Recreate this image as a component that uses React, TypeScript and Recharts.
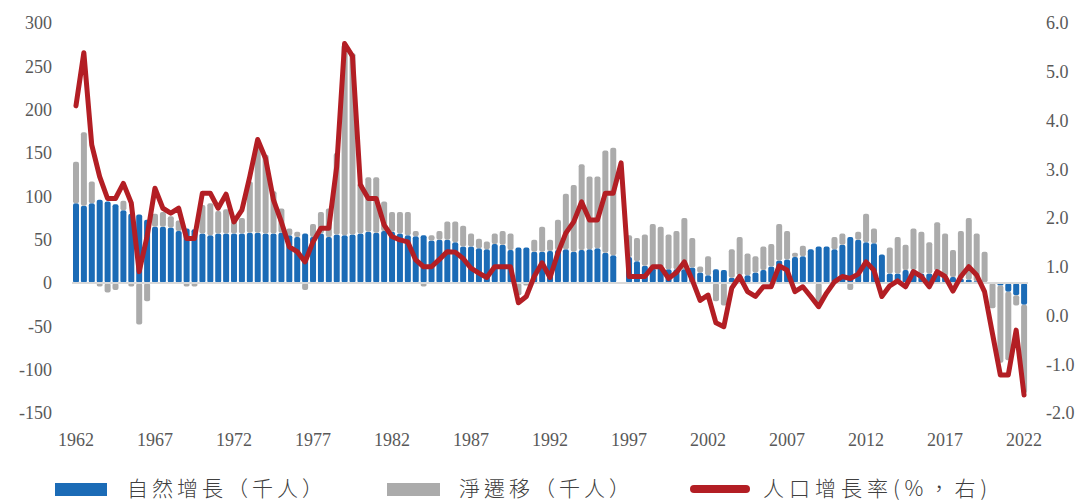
import React from 'react'
import { ComposedChart, Bar, Line, XAxis, YAxis, ReferenceLine } from 'recharts'

// half-year periods, 1962H1 .. 2022H1
const periods = Array.from({ length: 121 }, (_, i) => `${1962 + Math.floor(i / 2)}${i % 2 ? 'H2' : 'H1'}`)

// 自然增長（千人）
const naturalIncrease = [
  92, 89, 92, 96, 94, 91, 84, 80, 79, 73,
  65, 65, 64, 60, 63, 62, 57, 55, 57, 57,
  57, 57, 58, 58, 57, 57, 58, 55, 53, 57,
  53, 57, 53, 56, 55, 56, 57, 59, 58, 60,
  59, 57, 55, 54, 55, 49, 50, 50, 47, 42,
  42, 40, 39, 45, 44, 38, 41, 41, 36, 36,
  37, 38, 39, 36, 38, 39, 40, 35, 32, null,
  30, 25, 20, 17, 18, 16, 16, 16, 18, 12,
  9, 16, 15, 6, 9, 9, 12, 15, 19, 26,
  27, 30, 31, 39, 42, 42, 39, 44, 53, 50,
  47, 46, 33, 11, 11, 15, 15, 11, 11, 14,
  8, 7, 5, 4, 2, 1, 1, -3, -10, -14,
  -25,
]

// 淨遷移（千人）
const netMigration = [
  48, 85, 25, -4, -11, -8, 11, -4, -48, -21,
  15, 17, 13, 12, -4, -4, 33, 37, 26, 28,
  16, 18, 59, 104, 91, 49, 28, 8, 6, -8,
  15, 25, 33, 94, 220, 209, 58, 63, 64, 34,
  23, 25, 27, 6, -4, 6, 10, 21, 24, 24,
  15, 11, 9, 12, 16, 19, -14, -3, 14, 29,
  13, 35, 64, 77, 99, 84, 83, 118, 124, null,
  25, 27, 36, 51, 47, 40, 44, 59, 34, 7,
  22, -21, -26, 33, 44, 25, 19, 27, 26, 42,
  33, 5, 12, 0, -25, 0, 14, 13, -8, 9,
  33, 17, 0, 30, 42, 29, 48, 48, 36, 56,
  49, 31, 55, 71, 55, 35, -29, -89, -79, -12,
  -102,
]

// 人口增長率(%，右)
const growthRate = [
  4.3, 5.39, 3.5, 2.85, 2.4, 2.4, 2.71, 2.31, 0.9, 1.62,
  2.61, 2.2, 2.1, 2.2, 1.58, 1.58, 2.51, 2.51, 2.2, 2.49,
  1.92, 2.16, 2.85, 3.61, 3.22, 2.37, 1.92, 1.41, 1.31, 1.1,
  1.51, 1.79, 1.79, 3.05, 5.58, 5.32, 2.68, 2.4, 2.4, 1.86,
  1.62, 1.55, 1.51, 1.14, 1.0, 1.0, 1.15, 1.31, 1.3, 1.17,
  0.97, 0.87, 0.78, 1.0, 1.0, 1.0, 0.26, 0.39, 0.8, 1.08,
  0.78, 1.28, 1.69, 1.92, 2.33, 1.96, 1.96, 2.51, 2.51, 3.13,
  0.8, 0.8, 0.8, 1.0, 1.0, 0.76, 0.88, 1.1, 0.73, 0.31,
  0.42, -0.15, -0.23, 0.56, 0.8, 0.49, 0.39, 0.59, 0.59, 1.02,
  0.93, 0.49, 0.59, 0.39, 0.18, 0.46, 0.69, 0.8, 0.76, 0.85,
  1.1, 0.93, 0.39, 0.61, 0.71, 0.59, 0.9, 0.8, 0.59, 0.9,
  0.8, 0.5, 0.8, 1.0, 0.83, 0.49, -0.37, -1.22, -1.22, -0.3,
  -1.63,
]

const leftTicks = [-150, -100, -50, 0, 50, 100, 150, 200, 250, 300]
const rightTicks = [-2, -1, 0, 1, 2, 3, 4, 5, 6]

const BLUE = '#1B6BB6'
const GRAY = '#ABABAB'
const RED = '#B31E24'

const rows = periods.map((p, i) => ({
  period: p,
  natural: naturalIncrease[i],
  migration: netMigration[i],
  rate: growthRate[i],
}))

const tickStyle = { fontSize: 18, fill: '#595959', fontFamily: '"Liberation Serif", serif' }
const legendText = {
  position: 'absolute' as const,
  top: 473,
  lineHeight: '28px',
  fontSize: 21,
  fontWeight: 300,
  letterSpacing: 4,
  color: '#404040',
  fontFamily: '"Noto Sans CJK TC", sans-serif',
  whiteSpace: 'nowrap' as const,
}

export default function App() {
  return (
    <div style={{ position: 'absolute', left: 0, top: 0, width: 1083, height: 502, background: '#fff', overflow: 'hidden' }}>
      <ComposedChart
        width={1083}
        height={502}
        data={rows}
        margin={{ top: 23, right: 0, bottom: 59, left: 0 }}
        stackOffset="sign"
        barSize={6}
        barGap={0}
      >
        <XAxis
          dataKey="period"
          interval={9}
          height={30}
          axisLine={false}
          tickLine={false}
          tickSize={0}
          tickMargin={20}
          tick={tickStyle}
          tickFormatter={(v: string) => v.slice(0, 4)}
        />
        <YAxis
          yAxisId="left"
          domain={[-150, 300]}
          ticks={leftTicks}
          width={72}
          axisLine={false}
          tickLine={false}
          tickSize={0}
          tickMargin={20}
          tick={tickStyle}
        />
        <YAxis
          yAxisId="right"
          orientation="right"
          domain={[-2, 6]}
          ticks={rightTicks}
          width={55}
          axisLine={false}
          tickLine={false}
          tickSize={0}
          tickMargin={18}
          tick={{ ...tickStyle, textAnchor: 'start' }}
          tickFormatter={(v: number) => v.toFixed(1)}
        />
        <ReferenceLine yAxisId="left" y={0} stroke="#D9D9D9" strokeWidth={2} />
        <Bar yAxisId="left" dataKey="natural" stackId="s" fill={BLUE} radius={2} isAnimationActive={false} />
        <Bar yAxisId="left" dataKey="migration" stackId="s" fill={GRAY} radius={2} isAnimationActive={false} />
        <Line
          yAxisId="right"
          type="linear"
          dataKey="rate"
          stroke={RED}
          strokeWidth={5}
          strokeLinejoin="round"
          strokeLinecap="round"
          dot={false}
          isAnimationActive={false}
        />
      </ComposedChart>

      <div style={{ position: 'absolute', left: 55, top: 483, width: 52, height: 13, background: BLUE }} />
      <div style={{ ...legendText, left: 127 }}>自然增長（千人）</div>
      <div style={{ position: 'absolute', left: 387, top: 483, width: 53, height: 13, background: GRAY }} />
      <div style={{ ...legendText, left: 459 }}>淨遷移（千人）</div>
      <div style={{ position: 'absolute', left: 690, top: 485, width: 60, height: 8, borderRadius: 4, background: RED }} />
      <div style={{ ...legendText, left: 763, letterSpacing: 5 }}>人口增長率(%，右)</div>
    </div>
  )
}
